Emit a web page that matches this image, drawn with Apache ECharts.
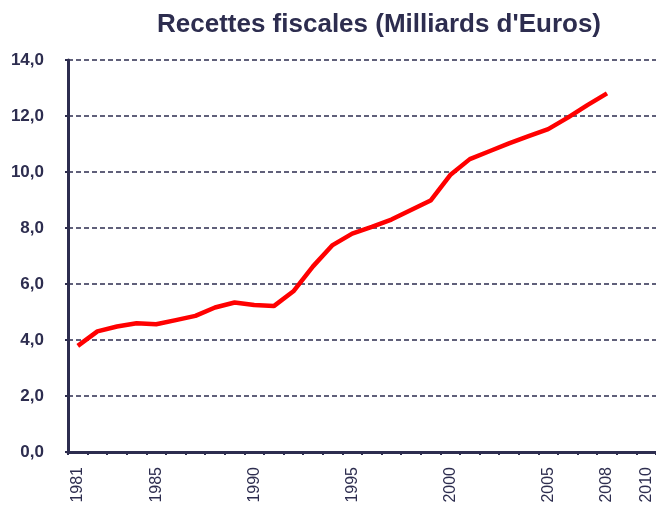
<!DOCTYPE html>
<html><head><meta charset="utf-8">
<script src="https://cdn.jsdelivr.net/npm/echarts@6/dist/echarts.min.js"></script>
<style>html,body{margin:0;padding:0;background:#fff}#c{width:656px;height:506px}</style>
</head><body><div id="c"></div>
<script>
const titleText = "Recettes fiscales (Milliards d'Euros)";
const years = ["1981","1982","1983","1984","1985","1986","1987","1988","1989","1990","1991","1992","1993","1994","1995","1996","1997","1998","1999","2000","2001","2002","2003","2004","2005","2006","2007","2008","2009","2010"];
const labeledYears = ["1981","1985","1990","1995","2000","2005","2008","2010"];
const recettes = [3.79,4.31,4.48,4.6,4.56,4.71,4.86,5.16,5.34,5.25,5.21,5.74,6.63,7.39,7.8,8.04,8.3,8.64,8.98,9.89,10.46,10.74,11.02,11.28,11.53,11.94,12.39,12.81,null,null];
const navy = '#2d2d4f';
const chart = echarts.init(document.getElementById('c'));
chart.setOption({
  animation:false,
  title:{text:titleText,left:374,top:7,textAlign:'center',textStyle:{fontFamily:'Liberation Sans, Arial',fontWeight:'bold',fontSize:26,color:navy}},
  grid:{left:68,top:60,right:-5,bottom:54,containLabel:false},
  xAxis:{type:'category',data:years,boundaryGap:true,
    axisLine:{lineStyle:{color:navy,width:3}},
    axisTick:{show:true,length:3,interval:0,lineStyle:{color:navy,width:2}},
    axisLabel:{rotate:90,margin:15,color:navy,fontFamily:'Liberation Sans, Arial',fontSize:16,
      interval:function(i,v){return labeledYears.indexOf(v)>=0;}},
    splitLine:{show:false}},
  yAxis:{type:'value',min:0,max:14,interval:2,
    axisLine:{show:true,lineStyle:{color:navy,width:3}},
    axisTick:{show:true,length:3,lineStyle:{color:navy,width:2}},
    axisLabel:{margin:24,color:navy,fontFamily:'Liberation Sans, Arial',fontWeight:'bold',fontSize:17,
      formatter:function(v){return v.toFixed(1).replace('.',',');}},
    splitLine:{show:true,lineStyle:{color:navy,width:1.5,type:[5,3]}}},
  series:[{type:'line',data:recettes,symbol:'none',smooth:false,
    lineStyle:{color:'#ff0000',width:4.5},z:5}]
});
</script></body></html>
